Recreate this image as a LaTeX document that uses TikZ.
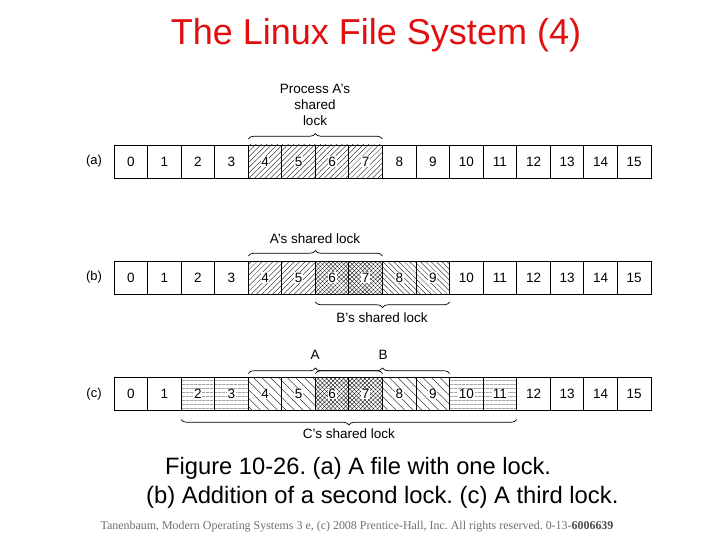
\documentclass[tikz,border=0pt]{standalone}
\usepackage{fontspec}
\setmainfont{Liberation Sans}
\newfontfamily\footfont{Liberation Serif}
\usetikzlibrary{patterns.meta,decorations.pathreplacing}
\definecolor{titlered}{RGB}{225,15,15}
\definecolor{footgray}{RGB}{110,110,110}
\frenchspacing
\tikzset{
  cell/.style={draw, line width=0.9pt, minimum width=33.56pt, minimum height=33pt, inner sep=0pt, outer sep=0pt},
  digit/.style={fill=white, inner sep=0.6pt, text height=9.4pt, text depth=0pt, font=\fontsize{13.5}{13.5}\selectfont},
  ne/.style={pattern={Lines[angle=45,distance=3.8pt,line width=0.35pt]}},
  nw/.style={pattern={Lines[angle=-45,distance=3.8pt,line width=0.35pt]}},
  nwwide/.style={pattern={Lines[angle=-45,distance=6pt,line width=0.35pt]}},
  cross/.style={preaction={pattern={Lines[angle=45,distance=3pt,line width=0.3pt]}}, pattern={Lines[angle=-45,distance=3pt,line width=0.3pt]}},
  hor/.style={pattern={Lines[angle=0,distance=4pt,line width=0.3pt]}},
  plain/.style={},
  brc/.style={decorate, decoration={brace, amplitude=5.5pt}, line width=0.7pt},
  lbl/.style={font=\fontsize{13.5}{16}\selectfont, align=center, inner sep=0pt},
  rowlbl/.style={font=\fontsize{13}{13}\selectfont, inner sep=0pt}
}
\begin{document}
\begin{tikzpicture}[x=1pt,y=-1pt]
\useasboundingbox (0,0) rectangle (720,540);
\node[text=titlered, font=\fontsize{36}{36}\selectfont] (title) at (376,35) {The Linux File System (4)};

% row (a)
\node[rowlbl] (la) at (94,161) {(a)};
\foreach \i/\s in {0/plain,1/plain,2/plain,3/plain,4/ne,5/ne,6/ne,7/ne,8/plain,9/plain,10/plain,11/plain,12/plain,13/plain,14/plain,15/plain}{
  \node[cell,\s] (a\i) at ({130.8+33.56*\i},161.5) {};
  \node[digit] at (a\i) {\i};
}
\draw[brc] ([yshift=6pt]a4.north west) -- ([yshift=6pt]a7.north east);
\node[lbl] (alab) at (315,105) {Process A's\\shared\\lock};

% row (b)
\node[rowlbl] (lb) at (94,277.5) {(b)};
\foreach \i/\s in {0/plain,1/plain,2/plain,3/plain,4/ne,5/ne,6/cross,7/cross,8/nw,9/nw,10/plain,11/plain,12/plain,13/plain,14/plain,15/plain}{
  \node[cell,\s] (b\i) at ({130.8+33.56*\i},277.5) {};
  \node[digit] at (b\i) {\i};
}
\draw[brc] ([yshift=5pt]b4.north west) -- ([yshift=5pt]b7.north east);
\node[lbl] (blab1) at (315,239) {A's shared lock};
\draw[brc] ([yshift=-8pt]b9.south east) -- ([yshift=-8pt]b6.south west);
\node[lbl] (blab2) at (382,318) {B's shared lock};

% row (c)
\node[rowlbl] (lc) at (94,394) {(c)};
\foreach \i/\s in {0/plain,1/plain,2/hor,3/hor,4/nwwide,5/nwwide,6/cross,7/cross,8/nwwide,9/nwwide,10/hor,11/hor,12/plain,13/plain,14/plain,15/plain}{
  \node[cell,\s] (c\i) at ({130.8+33.56*\i},394) {};
  \node[digit] at (c\i) {\i};
}
\draw[line width=1.5pt] (c4.north west) rectangle (c9.south east);
\draw[brc] ([yshift=4pt]c4.north west) -- ([yshift=4pt]c7.north east);
\draw[brc] ([yshift=4pt]c6.north west) -- ([yshift=4pt]c9.north east);
\node[lbl] (clabA) at (315,355) {A};
\node[lbl] (clabB) at (383,355) {B};
\draw[brc] ([yshift=-9pt]c11.south east) -- ([yshift=-9pt]c2.south west);
\node[lbl] (clab) at (349,434) {C's shared lock};

% caption
\node[font=\fontsize{23.7}{24}\selectfont, anchor=west, inner sep=0pt] (cap1) at (165,468) {Figure 10-26. (a) A file with one lock.};
\node[font=\fontsize{23.8}{24}\selectfont, anchor=west, inner sep=0pt] (cap2) at (146,497) {(b) Addition of a second lock. (c) A third lock.};
\node[font=\footfont\fontsize{11.95}{12}\selectfont, text=footgray, inner sep=0pt] (foot) at (357,527) {Tanenbaum, Modern Operating Systems 3 e, (c) 2008 Prentice-Hall, Inc. All rights reserved. 0-13-\textcolor{black!70}{\textbf{6006639}}};
\end{tikzpicture}
\end{document}
